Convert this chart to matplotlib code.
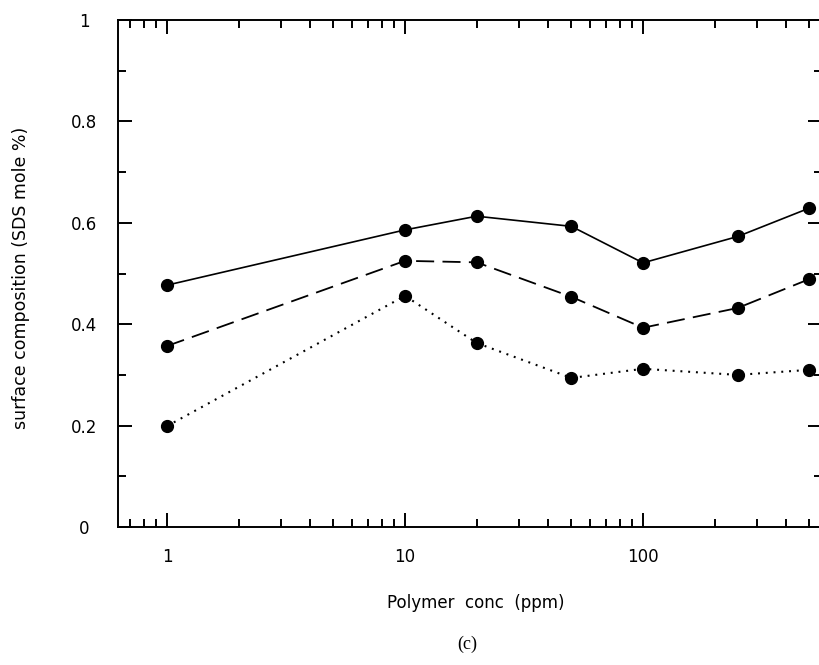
import matplotlib
matplotlib.use("Agg")
import matplotlib.pyplot as plt
from matplotlib.ticker import LogLocator, FixedLocator, NullFormatter, FixedFormatter

plt.rcParams["font.family"] = ["DejaVu Sans"]
plt.rcParams["lines.scale_dashes"] = False

# Polymer concentration (ppm) and SDS surface composition for three series
conc = [1, 10, 20, 50, 100, 250, 500]
series_solid = [0.477, 0.586, 0.613, 0.593, 0.521, 0.573, 0.629]
series_dashed = [0.357, 0.525, 0.522, 0.454, 0.393, 0.432, 0.489]
series_dotted = [0.199, 0.456, 0.363, 0.294, 0.312, 0.300, 0.310]

x_ticks = [1, 10, 100]
x_tick_labels = ["1", "10", "100"]
y_ticks = [0, 0.2, 0.4, 0.6, 0.8, 1.0]
y_tick_labels = ["0", "0.2", "0.4", "0.6", "0.8", "1"]

W, H = 820, 665
fig = plt.figure(figsize=(W / 100, H / 100), dpi=100)
left_px, right_px, top_px, bottom_px = 118, 822, 20, 527
ax = fig.add_axes([left_px / W, 1 - bottom_px / H,
                   (right_px - left_px) / W, (bottom_px - top_px) / H])

style = dict(color="black", marker="o", markersize=8.5)
ax.plot(conc, series_solid, linestyle="-", linewidth=1.2, **style)
ax.plot(conc, series_dashed, dashes=(13, 6), linewidth=1.3, **style)
ax.plot(conc, series_dotted, dashes=(1.4, 4.2), linewidth=1.5, **style)

ax.set_xscale("log")
# x limits chosen so that the spines sit at the axes edges
ax.set_xlim(10 ** ((left_px - 167) / 238), 10 ** ((right_px - 167) / 238))
ax.set_ylim(0, 1)

ax.xaxis.set_major_locator(FixedLocator(x_ticks))
ax.xaxis.set_major_formatter(FixedFormatter(x_tick_labels))
ax.xaxis.set_minor_locator(LogLocator(base=10, subs=range(2, 10), numticks=20))
ax.xaxis.set_minor_formatter(NullFormatter())
ax.yaxis.set_major_locator(FixedLocator(y_ticks))
ax.yaxis.set_major_formatter(FixedFormatter(y_tick_labels))
ax.yaxis.set_minor_locator(FixedLocator([0.1, 0.3, 0.5, 0.7, 0.9]))

for sp in ax.spines.values():
    sp.set_linewidth(1.4)
ax.spines["right"].set_visible(False)

ax.tick_params(which="both", direction="in", top=True, right=True, width=1.4,
               labelsize=12)
ax.tick_params(which="major", length=10)
ax.tick_params(which="minor", length=6)
ax.tick_params(axis="x", which="major", pad=15)
ax.tick_params(axis="y", which="major", pad=24.5)
for lbl in ax.get_yticklabels():
    lbl.set_horizontalalignment("center")

fig.text(21 / W, 1 - 278 / H, "surface composition (SDS mole %)", rotation=90,
         ha="center", va="center", fontsize=12.5)
fig.text(476 / W, 1 - 603 / H, "Polymer  conc  (ppm)", ha="center", va="center",
         fontsize=12)
fig.text(467 / W, 1 - 644 / H, "(c)", ha="center", va="center", fontsize=13,
         family=["Liberation Serif"])

fig.savefig("out.png", dpi=100)
